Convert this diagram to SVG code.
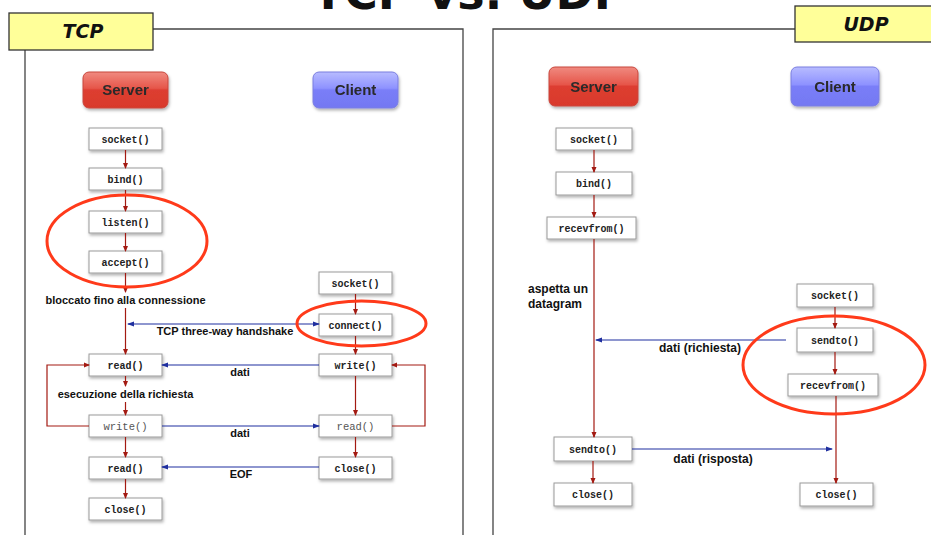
<svg xmlns="http://www.w3.org/2000/svg" width="931" height="535" viewBox="0 0 931 535">
<style>
.frame{fill:none;stroke:#444;stroke-width:1.3}
.tag{fill:#ffff99;stroke:#333;stroke-width:1.3}
.tagt{font-family:"Comic Sans MS","DejaVu Sans",sans-serif;font-style:italic;font-weight:bold;font-size:19px;fill:#111;text-anchor:middle}
.box{fill:#fff;stroke:#9a9a9a;stroke-width:1;filter:url(#sh)}
.fn{font-family:"Liberation Mono",monospace;font-weight:bold;font-size:10px;fill:#222;text-anchor:middle}
.fnl{font-family:"Liberation Mono",monospace;font-size:10.5px;fill:#555;text-anchor:middle}
.btn{font-family:"Liberation Sans",Arial,sans-serif;font-weight:bold;font-size:15px;fill:#2a2a2a;text-anchor:middle}
.lbl{font-family:"Liberation Sans",Arial,sans-serif;font-weight:bold;font-size:11px;fill:#111}
.lbl2{font-family:"Liberation Sans",Arial,sans-serif;font-weight:bold;font-size:12px;fill:#111}
.r{fill:none;stroke:#a31a12;stroke-width:1.2;marker-end:url(#ar)}
.b{fill:none;stroke:#1f2f9f;stroke-width:1.2;marker-end:url(#ab)}
.ring{fill:none;stroke:#ff3a1a;stroke-width:3}
</style>
<defs>
<marker id="ar" markerWidth="6" markerHeight="6" refX="5" refY="3" orient="auto" markerUnits="userSpaceOnUse"><path d="M0,0.5 L6,3 L0,5.5 z" fill="#a31a12"/></marker>
<marker id="ab" markerWidth="7" markerHeight="6" refX="6" refY="3" orient="auto-start-reverse" markerUnits="userSpaceOnUse"><path d="M0,0.5 L7,3 L0,5.5 z" fill="#1f2f9f"/></marker>
<linearGradient id="gr" x1="0" y1="0" x2="0" y2="1"><stop offset="0" stop-color="#f08a80"/><stop offset="0.45" stop-color="#e6564a"/><stop offset="0.5" stop-color="#dd3e30"/><stop offset="1" stop-color="#d9392c"/></linearGradient>
<linearGradient id="gb" x1="0" y1="0" x2="0" y2="1"><stop offset="0" stop-color="#b8bcff"/><stop offset="0.45" stop-color="#8e92ff"/><stop offset="0.5" stop-color="#7a7ef8"/><stop offset="1" stop-color="#7478f2"/></linearGradient>
<filter id="sh" x="-20%" y="-20%" width="150%" height="160%"><feDropShadow dx="1" dy="2" stdDeviation="1.5" flood-color="#000" flood-opacity="0.3"/></filter>
</defs>
<rect width="931" height="535" fill="#fff"/>
<text x="470" y="9" font-family="Comic Sans MS,DejaVu Sans,sans-serif" font-weight="bold" font-size="46" text-anchor="middle" fill="#111">TCP vs. UDP</text>

<!-- frames -->
<path class="frame" d="M25,50 V535 M153,29 H463 V535"/>
<g id="tcp-tag"><rect class="tag" x="9" y="13" width="144" height="37"/><text class="tagt" x="83" y="38">TCP</text></g>
<path class="frame" d="M493,535 V29 H796"/>
<g id="udp-tag"><rect class="tag" x="795" y="6" width="145" height="36"/><text class="tagt" x="866" y="31">UDP</text></g>

<!-- TCP buttons -->
<g id="tcp-server" filter="url(#sh)"><rect x="83" y="72" width="85" height="36" rx="6" fill="url(#gr)" stroke="#c8463c"/><text class="btn" x="125.5" y="95">Server</text></g>
<g id="tcp-client" filter="url(#sh)"><rect x="313" y="72" width="85" height="36" rx="6" fill="url(#gb)" stroke="#7a7ee0"/><text class="btn" x="355.5" y="95">Client</text></g>

<!-- TCP server nodes -->
<g id="ts-socket"><rect class="box" x="89" y="128" width="73" height="22"/><text class="fn" x="125.5" y="142.5">socket()</text></g>
<g id="ts-bind"><rect class="box" x="89" y="168" width="73" height="22"/><text class="fn" x="125.5" y="182.5">bind()</text></g>
<g id="ts-listen"><rect class="box" x="89" y="211" width="73" height="22"/><text class="fn" x="125.5" y="225.5">listen()</text></g>
<g id="ts-accept"><rect class="box" x="89" y="251" width="73" height="22"/><text class="fn" x="125.5" y="265.5">accept()</text></g>
<g id="ts-read"><rect class="box" x="89" y="354" width="73" height="22"/><text class="fn" x="125.5" y="368.5">read()</text></g>
<g id="ts-write"><rect class="box" x="89" y="415" width="73" height="22"/><text class="fnl" x="125.5" y="429.5">write()</text></g>
<g id="ts-read2"><rect class="box" x="89" y="457" width="73" height="22"/><text class="fn" x="125.5" y="471.5">read()</text></g>
<g id="ts-close"><rect class="box" x="89" y="498" width="73" height="22"/><text class="fn" x="125.5" y="512.5">close()</text></g>

<!-- TCP client nodes -->
<g id="tc-socket"><rect class="box" x="319" y="272" width="73" height="22"/><text class="fn" x="355.5" y="286.5">socket()</text></g>
<g id="tc-connect"><rect class="box" x="319" y="314" width="73" height="22"/><text class="fn" x="355.5" y="328.5">connect()</text></g>
<g id="tc-write"><rect class="box" x="319" y="354" width="73" height="22"/><text class="fn" x="355.5" y="368.5">write()</text></g>
<g id="tc-read"><rect class="box" x="319" y="415" width="73" height="22"/><text class="fnl" x="355.5" y="429.5">read()</text></g>
<g id="tc-close"><rect class="box" x="319" y="457" width="73" height="22"/><text class="fn" x="355.5" y="471.5">close()</text></g>

<!-- UDP buttons -->
<g id="udp-server" filter="url(#sh)"><rect x="549" y="67" width="89" height="39" rx="6" fill="url(#gr)" stroke="#c8463c"/><text class="btn" x="593.5" y="91.5">Server</text></g>
<g id="udp-client" filter="url(#sh)"><rect x="791" y="67" width="88" height="39" rx="6" fill="url(#gb)" stroke="#7a7ee0"/><text class="btn" x="835" y="91.5">Client</text></g>

<!-- UDP server nodes -->
<g id="us-socket"><rect class="box" x="556" y="128" width="76" height="22"/><text class="fn" x="594" y="142.5">socket()</text></g>
<g id="us-bind"><rect class="box" x="556" y="172" width="76" height="23"/><text class="fn" x="594" y="187">bind()</text></g>
<g id="us-recvfrom"><rect class="box" x="547" y="217" width="89" height="22"/><text class="fn" x="591.5" y="232" font-size="11.5">recevfrom()</text></g>
<g id="us-sendto"><rect class="box" x="554" y="437" width="78" height="24"/><text class="fn" x="593" y="453" font-size="11.5">sendto()</text></g>
<g id="us-close"><rect class="box" x="554" y="483" width="78" height="23"/><text class="fn" x="593" y="498">close()</text></g>

<!-- UDP client nodes -->
<g id="uc-socket"><rect class="box" x="797" y="284" width="76" height="23"/><text class="fn" x="835" y="299">socket()</text></g>
<g id="uc-sendto"><rect class="box" x="797" y="328" width="76" height="24"/><text class="fn" x="835" y="344" font-size="11.5">sendto()</text></g>
<g id="uc-recvfrom"><rect class="box" x="788" y="374" width="90" height="22"/><text class="fn" x="833" y="389" font-size="11.5">recevfrom()</text></g>
<g id="uc-close"><rect class="box" x="800" y="483" width="73" height="23"/><text class="fn" x="836.5" y="498">close()</text></g>

<!-- connectors -->
<g id="connectors">
<path class="r" d="M125.5,150 V168"/>
<path class="r" d="M125.5,190 V211"/>
<path class="r" d="M125.5,233 V251"/>
<path class="r" d="M125.5,273 V292"/>
<path class="r" d="M125.5,308 V354"/>
<path class="r" d="M125.5,376 V386"/>
<path class="r" d="M125.5,402 V415"/>
<path class="r" d="M125.5,437 V457"/>
<path class="r" d="M125.5,479 V498"/>
<path class="r" d="M355.5,294 V314"/>
<path class="r" d="M355.5,336 V354"/>
<path class="r" d="M355.5,376 V415"/>
<path class="r" d="M355.5,437 V457"/>
<path class="r" d="M89,426 H47 V365 H89"/>
<path class="r" d="M392,426 H425 V365 H392"/>
<path class="b" d="M128,324 H319" marker-start="url(#ab)"/>
<path class="b" d="M319,365 H162"/>
<path class="b" d="M162,426 H319"/>
<path class="b" d="M319,467 H162"/>

<path class="r" d="M594,150 V172"/>
<path class="r" d="M594,195 V217"/>
<path class="r" d="M594,239 V437"/>
<path class="r" d="M593,461 V483"/>
<path class="r" d="M835,307 V328"/>
<path class="r" d="M835,352 V374"/>
<path class="r" d="M836,396 V483"/>
<path class="b" d="M786,340 H596"/>
<path class="b" d="M632,449 H832"/>
</g>

<!-- labels -->
<g id="labels">
<text class="lbl" x="125.5" y="304" text-anchor="middle">bloccato fino alla connessione</text>
<text class="lbl" x="225" y="335" text-anchor="middle">TCP three-way handshake</text>
<text class="lbl" x="240" y="376" text-anchor="middle">dati</text>
<text class="lbl" x="125.5" y="398" text-anchor="middle">esecuzione della richiesta</text>
<text class="lbl" x="240" y="437" text-anchor="middle">dati</text>
<text class="lbl" x="241" y="478" text-anchor="middle">EOF</text>
<text class="lbl2" x="528" y="293">aspetta un</text>
<text class="lbl2" x="528" y="308">datagram</text>
<text class="lbl2" x="700" y="352" text-anchor="middle">dati (richiesta)</text>
<text class="lbl2" x="713" y="463" text-anchor="middle">dati (risposta)</text>
</g>

<!-- highlight rings -->
<g id="highlights">
<ellipse class="ring" cx="127" cy="241" rx="80" ry="46"/>
<ellipse class="ring" cx="361.5" cy="323.5" rx="64.5" ry="22.5"/>
<ellipse class="ring" cx="834" cy="365" rx="91" ry="49"/>
</g>
</svg>
